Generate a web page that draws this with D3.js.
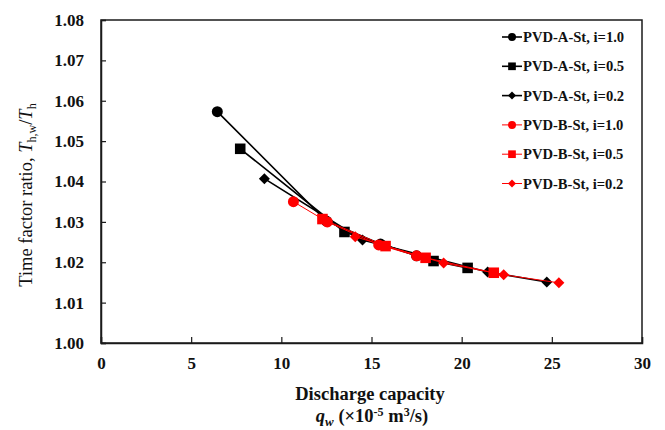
<!DOCTYPE html>
<html>
<head>
<meta charset="utf-8">
<script src="https://cdn.jsdelivr.net/npm/d3@7"></script>
<style>
  body { margin: 0; background: #fff; }
  svg { display: block; }
  text { font-family: "Liberation Serif", "Times New Roman", serif; }
</style>
</head>
<body>
<svg id="chart" width="665" height="430"></svg>
<script>
// ---- data ----
const seriesNames = ["PVD-A-St, i=1.0", "PVD-A-St, i=0.5", "PVD-A-St, i=0.2",
                     "PVD-B-St, i=1.0", "PVD-B-St, i=0.5", "PVD-B-St, i=0.2"];
const seriesColors = ["#000000", "#000000", "#000000", "#ff0000", "#ff0000", "#ff0000"];
const seriesShapes = ["circle", "square", "diamond", "circle", "square", "diamond"];
const qA10 = [6.45, 12.5, 15.5, 17.5];
const tA10 = [1.0573, 1.0302, 1.0245, 1.0216];
const qA05 = [7.72, 13.5, 18.44, 20.33];
const tA05 = [1.0481, 1.0275, 1.0203, 1.0186];
const qA02 = [9.06, 14.5, 21.44, 24.72];
const tA02 = [1.0407, 1.0255, 1.0176, 1.0151];
const qB10 = [10.67, 12.55, 15.4, 17.5];
const tB10 = [1.0350, 1.0300, 1.0243, 1.0216];
const qB05 = [12.28, 15.78, 18.0, 21.78];
const tB05 = [1.0307, 1.0240, 1.0211, 1.0174];
const qB02 = [14.1, 19.0, 22.33, 25.39];
const tB02 = [1.0263, 1.0198, 1.0169, 1.0149];
const xTicks = [0, 5, 10, 15, 20, 25, 30];
const yTicks = [1.00, 1.01, 1.02, 1.03, 1.04, 1.05, 1.06, 1.07, 1.08];

const qs = [qA10, qA05, qA02, qB10, qB05, qB02];
const ts = [tA10, tA05, tA02, tB10, tB05, tB02];

// ---- layout ----
const svg = d3.select("#chart");
const L = 101, R = 642, T = 20, B = 343;
const x = d3.scaleLinear().domain([0, 30]).range([L, R]);
const y = d3.scaleLinear().domain([1.00, 1.08]).range([B, T]);

// frame
svg.append("rect").attr("x", L).attr("y", T).attr("width", R - L).attr("height", B - T)
  .attr("fill", "none").attr("stroke", "#1a1a1a").attr("stroke-width", 1.5);

// axes
const xAxis = svg.append("g").attr("transform", `translate(0,${B})`)
  .call(d3.axisBottom(x).tickValues(xTicks).tickSize(-6).tickPadding(14).tickFormat(d3.format("d")));
const yAxis = svg.append("g").attr("transform", `translate(${L},0)`)
  .call(d3.axisLeft(y).tickValues(yTicks).tickSize(-5).tickPadding(17).tickFormat(d3.format(".2f")));
[xAxis, yAxis].forEach(g => {
  g.select(".domain").attr("stroke", "#1a1a1a").attr("stroke-width", 1.5);
  g.selectAll(".tick line").attr("stroke", "#1a1a1a").attr("stroke-width", 1.2);
  g.selectAll(".tick text").attr("font-family", "Liberation Serif, serif")
    .attr("font-size", 17).attr("font-weight", "bold").attr("fill", "#111");
});
xAxis.selectAll(".tick text").attr("dy", "0.71em");

// symbols
function drawMarker(g, shape, cx, cy, color, s) {
  if (shape === "circle") {
    g.append("circle").attr("cx", cx).attr("cy", cy).attr("r", s * 0.5).attr("fill", color);
  } else if (shape === "square") {
    g.append("rect").attr("x", cx - s * 0.48).attr("y", cy - s * 0.48)
      .attr("width", s * 0.96).attr("height", s * 0.96).attr("fill", color);
  } else {
    const h = s * 0.5;
    g.append("path").attr("d", `M${cx},${cy - h}L${cx + h},${cy}L${cx},${cy + h}L${cx - h},${cy}Z`)
      .attr("fill", color);
  }
}

const line = d3.line().x(d => x(d[0])).y(d => y(d[1]));
const plot = svg.append("g");
seriesNames.forEach((name, i) => {
  const pts = qs[i].map((q, j) => [q, ts[i][j]]);
  const isRed = seriesColors[i] !== "#000000";
  const g = plot.append("g");
  g.append("path").attr("d", line(pts)).attr("fill", "none")
    .attr("stroke", seriesColors[i]).attr("stroke-width", isRed ? 1 : 1.6);
  pts.forEach(p => drawMarker(g, seriesShapes[i], x(p[0]), y(p[1]), seriesColors[i], 11));
});

// legend
const leg = svg.append("g");
seriesNames.forEach((name, i) => {
  const ly = 37 + i * 29.3;
  const isRed = seriesColors[i] !== "#000000";
  leg.append("line").attr("x1", 502).attr("x2", 522).attr("y1", ly).attr("y2", ly)
    .attr("stroke", seriesColors[i]).attr("stroke-width", isRed ? 1 : 1.6);
  drawMarker(leg, seriesShapes[i], 512, ly, seriesColors[i], 8);
  leg.append("text").attr("x", 523).attr("y", ly).attr("dy", "0.35em")
    .attr("font-size", 14.6).attr("font-weight", "bold").attr("fill", "#111").text(name);
});

// x title
svg.append("text").attr("x", 370).attr("y", 400).attr("text-anchor", "middle")
  .attr("font-size", 18.5).attr("font-weight", "bold").attr("fill", "#111")
  .text("Discharge capacity");
const xt2 = svg.append("text").attr("x", 372).attr("y", 422).attr("text-anchor", "middle")
  .attr("font-size", 18.5).attr("font-weight", "bold").attr("fill", "#111");
xt2.append("tspan").attr("font-style", "italic").text("q");
xt2.append("tspan").attr("font-style", "italic").attr("font-size", 13).attr("dy", 4).text("w");
xt2.append("tspan").attr("dy", -4).text(" (×10");
xt2.append("tspan").attr("font-size", 12).attr("dy", -6).text("-5");
xt2.append("tspan").attr("dy", 6).text(" m");
xt2.append("tspan").attr("font-size", 12).attr("dy", -6).text("3");
xt2.append("tspan").attr("dy", 6).text("/s)");

// y title
const yt = svg.append("text").attr("transform", "translate(32,195) rotate(-90)")
  .attr("text-anchor", "middle").attr("font-size", 18.5).attr("fill", "#111");
yt.append("tspan").text("Time factor ratio, ");
yt.append("tspan").attr("font-style", "italic").text("T");
yt.append("tspan").attr("font-size", 12).attr("dy", 4).text("h,w");
yt.append("tspan").attr("dy", -4).text("/");
yt.append("tspan").attr("font-style", "italic").text("T");
yt.append("tspan").attr("font-size", 12).attr("dy", 4).text("h");
</script>
</body>
</html>
